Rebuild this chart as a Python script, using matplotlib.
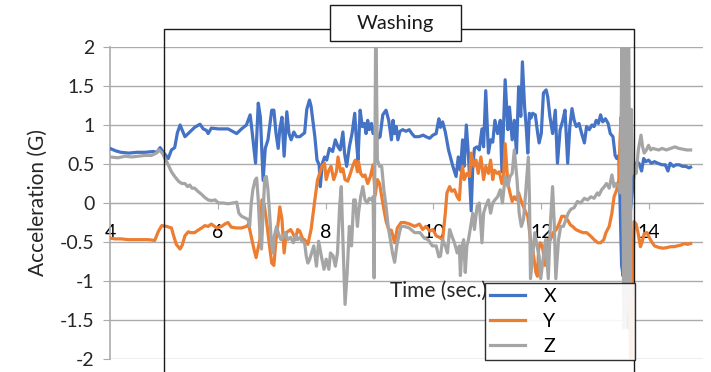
import matplotlib
matplotlib.use("Agg")
import matplotlib.pyplot as plt
from matplotlib.patches import Rectangle

plt.rcParams['font.family'] = ['Lato', 'DejaVu Sans']
plt.rcParams['axes.unicode_minus'] = False

# ---- acceleration traces (time in seconds, value in G) ----
t_x = [4.00, 4.10, 4.20, 4.35, 4.50, 4.65, 4.80, 4.87, 4.93, 4.99, 5.08, 5.14, 5.20, 5.25, 5.30, 5.39,
       5.48, 5.57, 5.67, 5.73, 5.79, 5.82, 5.88, 6.01, 6.19, 6.35, 6.44, 6.53, 6.60, 6.64, 6.70, 6.75,
       6.79, 6.84, 6.88, 6.93, 7.00, 7.04, 7.08, 7.12, 7.15, 7.19, 7.23, 7.28, 7.32, 7.36, 7.41, 7.46,
       7.52, 7.61, 7.65, 7.70, 7.73, 7.80, 7.84, 7.88, 7.90, 7.94, 7.98, 8.02, 8.07, 8.13, 8.18, 8.23,
       8.27, 8.32, 8.35, 8.39, 8.44, 8.49, 8.54, 8.57, 8.60, 8.64, 8.68, 8.72, 8.75, 8.78, 8.81, 8.85,
       8.88, 8.92, 8.97, 9.01, 9.06, 9.12, 9.17, 9.22, 9.25, 9.28, 9.31, 9.34, 9.38, 9.43, 9.49, 9.55,
       9.60, 9.65, 9.73, 9.81, 9.86, 9.93, 9.99, 10.05, 10.10, 10.13, 10.17, 10.22, 10.28, 10.36, 10.42,
       10.46, 10.50, 10.54, 10.57, 10.61, 10.65, 10.70, 10.73, 10.76, 10.81, 10.85, 10.90, 10.93, 10.97,
       11.02, 11.06, 11.10, 11.14, 11.19, 11.24, 11.27, 11.33, 11.38, 11.41, 11.46, 11.50, 11.54, 11.58,
       11.62, 11.65, 11.69, 11.72, 11.75, 11.78, 11.81, 11.84, 11.89, 11.93, 11.96, 12.00, 12.04, 12.09,
       12.12, 12.16, 12.21, 12.26, 12.30, 12.35, 12.40, 12.44, 12.49, 12.53, 12.57, 12.61, 12.65, 12.70,
       12.75, 12.80, 12.84, 12.89, 12.94, 12.98, 13.02, 13.06, 13.10, 13.14, 13.19, 13.24, 13.28, 13.33,
       13.37, 13.40, 13.44, 13.49, 13.52, 13.56, 13.60, 13.64, 13.69, 13.72, 13.75, 13.78, 13.82, 13.86,
       13.90, 13.94, 13.99, 14.04, 14.10, 14.16, 14.24, 14.30, 14.35, 14.39, 14.45, 14.50, 14.56, 14.62,
       14.68, 14.74, 14.77]
acc_x = [0.70, 0.67, 0.65, 0.64, 0.65, 0.65, 0.66, 0.65, 0.71, 0.65, 0.57, 0.68, 0.71, 0.90, 1.00, 0.85,
         0.91, 0.97, 1.01, 0.95, 0.93, 0.89, 0.96, 0.95, 0.95, 0.89, 0.95, 1.00, 1.13, 0.89, 0.51, 1.28,
         1.10, 0.29, 0.70, 0.81, 1.19, 1.19, 0.89, 0.70, 0.95, 1.10, 0.60, 1.17, 0.89, 0.81, 0.91, 0.85,
         0.85, 0.90, 1.20, 1.32, 1.24, 0.85, 0.55, 0.49, 0.21, 0.51, 0.59, 0.55, 0.70, 0.66, 0.81, 0.72,
         0.68, 0.91, 0.64, 0.47, 0.72, 0.89, 1.15, 0.81, 0.55, 1.19, 0.98, 1.02, 0.89, 1.06, 0.94, 1.02,
         0.89, 0.98, 0.83, 0.85, 1.13, 1.19, 1.06, 0.81, 1.06, 0.89, 0.98, 0.81, 0.92, 0.94, 0.92, 0.94,
         0.89, 0.85, 0.85, 0.87, 0.85, 0.83, 0.87, 0.89, 1.08, 0.97, 1.04, 0.91, 0.68, 0.47, 0.34,
         0.59, 0.42, 0.81, 0.47, 1.00, 0.60, -0.10, 0.47, 0.70, 0.72, 0.68, 0.95, 0.72, 1.44,
         0.64, 0.81, 0.78, 1.06, 0.89, 1.06, 0.40, 1.58, 0.94, 1.23, 0.81, 1.06, 0.64, 1.49,
         1.11, 1.81, 1.24, 0.98, 0.64, 1.15, 1.09, 1.15, 1.13, 0.91, 0.77, 0.89, 1.41, 1.45,
         1.36, 1.11, 0.89, 1.19, 0.51, 0.94, 1.06, 1.19, 0.51, 0.98, 1.21, 1.06, 0.98, 1.02,
         0.89, 0.77, 0.98, 0.94, 1.00, 0.98, 1.06, 1.02, 1.13, 1.04, 1.08, 1.02, 0.89, 0.85,
         0.61, 0.57, 0.61, -0.80, -0.94, 0.20, -1.60, -0.20, 0.17, 0.38, 0.47, 0.53, 0.50, 0.41,
         0.57, 0.53, 0.55, 0.51, 0.53, 0.51, 0.49, 0.49, 0.41, 0.51, 0.47, 0.49, 0.49, 0.47,
         0.47, 0.45, 0.46]

t_y = [4.00, 4.09, 4.21, 4.34, 4.46, 4.59, 4.71, 4.83, 4.90, 4.96, 5.05, 5.14, 5.18, 5.23, 5.30, 5.34,
       5.39, 5.45, 5.50, 5.57, 5.63, 5.70, 5.76, 5.82, 5.88, 5.98, 6.07, 6.13, 6.19, 6.25, 6.35, 6.44,
       6.53, 6.57, 6.62, 6.67, 6.71, 6.78, 6.82, 6.86, 6.90, 6.95, 7.00, 7.04, 7.08, 7.12, 7.15, 7.19,
       7.23, 7.27, 7.31, 7.35, 7.40, 7.44, 7.48, 7.52, 7.58, 7.61, 7.67, 7.73, 7.80, 7.85, 7.89, 7.93,
       7.98, 8.01, 8.06, 8.10, 8.15, 8.20, 8.23, 8.28, 8.32, 8.36, 8.41, 8.46, 8.51, 8.55, 8.59, 8.61,
       8.65, 8.69, 8.73, 8.78, 8.83, 8.88, 8.92, 8.96, 9.00, 9.06, 9.12, 9.17, 9.22, 9.28, 9.33, 9.40,
       9.46, 9.56, 9.65, 9.74, 9.80, 9.86, 9.93, 9.99, 10.05, 10.11, 10.17, 10.22, 10.25, 10.30, 10.34,
       10.39, 10.44, 10.48, 10.51, 10.54, 10.57, 10.62, 10.67, 10.70, 10.75, 10.79, 10.83, 10.88, 10.93,
       10.97, 11.02, 11.06, 11.10, 11.13, 11.18, 11.22, 11.27, 11.30, 11.33, 11.38, 11.42, 11.46, 11.50,
       11.54, 11.58, 11.62, 11.67, 11.72, 11.75, 11.80, 11.85, 11.90, 11.93, 11.95, 11.98, 12.02, 12.07,
       12.10, 12.12, 12.17, 12.22, 12.28, 12.34, 12.38, 12.43, 12.49, 12.54, 12.58, 12.64, 12.70, 12.77,
       12.84, 12.91, 12.98, 13.05, 13.10, 13.16, 13.20, 13.26, 13.31, 13.35, 13.40, 13.44, 13.46, 13.48,
       13.51, 13.54, 13.57, 13.60, 13.63, 13.66, 13.69, 13.72, 13.76, 13.80, 13.84, 13.87, 13.91, 13.96,
       14.01, 14.05, 14.10, 14.18, 14.26, 14.34, 14.40, 14.46, 14.53, 14.59, 14.65, 14.71, 14.77]
acc_y = [-0.45, -0.46, -0.46, -0.47, -0.47, -0.47, -0.47, -0.48, -0.36, -0.29, -0.30, -0.32, -0.42, -0.53,
         -0.59, -0.54, -0.42, -0.37, -0.38, -0.38, -0.35, -0.32, -0.29, -0.30, -0.27, -0.32, -0.30, -0.27,
         -0.25, -0.31, -0.32, -0.32, -0.30, -0.27, -0.43, -0.59, -0.70, -0.47, 0.04, -0.02, -0.21, -0.50,
         -0.77, -0.80, -0.47, -0.25, -0.05, -0.21, -0.64, -0.38, -0.36, -0.34, -0.40, -0.47, -0.34, -0.36,
         -0.47, -0.47, -0.53, -0.34, 0.04, 0.30, 0.38, 0.47, 0.51, 0.30, 0.42, 0.47, 0.30, 0.40, 0.59,
         0.40, 0.44, 0.30, 0.28, 0.38, 0.49, 0.55, 0.40, 0.53, 0.38, 0.34, 0.36, 0.25, 0.34, 0.49, 0.10,
         0.30, 0.25, 0.00, -0.23, -0.34, -0.35, -0.51, -0.32, -0.25, -0.25, -0.27, -0.30, -0.27, -0.34,
         -0.30, -0.36, -0.34, -0.42, -0.44, -0.47, -0.13, 0.13, 0.21, 0.15, 0.17, 0.08, 0.04, 0.34, 0.47,
         0.30, 0.38, 0.34, 0.64, 0.47, 0.55, 0.38, 0.59, 0.30, 0.47, 0.38, 0.55, 0.30, 0.42, 0.38, 0.40,
         0.25, 0.34, 0.76, 0.25, 0.13, 0.02, 0.08, 0.04, 0.13, 0.04, -0.05, -0.13, -0.17, -0.47, -0.64,
         -0.89, -0.94, -0.60, -0.51, -0.55, -0.80, -0.55, -0.47, -0.47, -0.38, -0.34, -0.25, -0.17, -0.17,
         -0.22, -0.28, -0.30, -0.34, -0.36, -0.38, -0.38, -0.42, -0.47, -0.51, -0.51, -0.47, -0.38, -0.30,
         -0.13, 0.08, 0.17, 0.30, 0.80, 1.10, 0.00, -0.97, 0.40, 1.82, -0.50, -2.30, -1.20, -0.24, -0.27,
         -0.40, -0.56, -0.50, -0.39, -0.38, -0.45, -0.50, -0.55, -0.57, -0.58, -0.57, -0.56, -0.56, -0.55,
         -0.54, -0.52, -0.53, -0.52]

t_z = [4.00, 4.15, 4.28, 4.40, 4.52, 4.65, 4.77, 4.86, 4.91, 4.97, 5.02, 5.08, 5.14, 5.20, 5.27, 5.33,
       5.39, 5.44, 5.48, 5.52, 5.57, 5.63, 5.70, 5.76, 5.82, 5.88, 5.95, 6.01, 6.10, 6.19, 6.28, 6.35,
       6.39, 6.44, 6.50, 6.56, 6.59, 6.62, 6.65, 6.69, 6.72, 6.75, 6.78, 6.81, 6.84, 6.87, 6.90, 6.93,
       6.96, 6.99, 7.02, 7.05, 7.09, 7.12, 7.17, 7.21, 7.25, 7.30, 7.35, 7.40, 7.44, 7.48, 7.52, 7.56,
       7.61, 7.64, 7.67, 7.70, 7.74, 7.78, 7.83, 7.87, 7.92, 7.97, 8.01, 8.06, 8.09, 8.14, 8.18, 8.22,
       8.26, 8.29, 8.32, 8.36, 8.40, 8.44, 8.48, 8.52, 8.55, 8.59, 8.61, 8.65, 8.69, 8.73, 8.77, 8.81,
       8.85, 8.88, 8.90, 8.93, 8.96, 9.00, 9.04, 9.08, 9.12, 9.16, 9.20, 9.24, 9.28, 9.32, 9.37, 9.40,
       9.46, 9.55, 9.65, 9.75, 9.83, 9.90, 9.98, 10.05, 10.10, 10.13, 10.17, 10.22, 10.26, 10.30, 10.34,
       10.39, 10.44, 10.48, 10.50, 10.53, 10.56, 10.59, 10.62, 10.65, 10.69, 10.73, 10.76, 10.81, 10.85,
       10.90, 10.93, 10.97, 11.02, 11.06, 11.10, 11.14, 11.19, 11.24, 11.28, 11.33, 11.38, 11.42, 11.46,
       11.50, 11.55, 11.59, 11.63, 11.67, 11.71, 11.76, 11.78, 11.80, 11.84, 11.88, 11.92, 11.96, 11.99,
       12.04, 12.08, 12.13, 12.17, 12.21, 12.24, 12.27, 12.32, 12.36, 12.41, 12.46, 12.50, 12.55, 12.61,
       12.67, 12.73, 12.80, 12.86, 12.92, 12.98, 13.04, 13.07, 13.12, 13.17, 13.21, 13.26, 13.31, 13.35,
       13.39, 13.44, 13.47, 13.50, 13.53, 13.56, 13.59, 13.62, 13.65, 13.67, 13.69, 13.73, 13.76, 13.80,
       13.85, 13.88, 13.91, 13.95, 13.99, 14.03, 14.07, 14.12, 14.18, 14.24, 14.32, 14.40, 14.48, 14.55,
       14.62, 14.70, 14.77]
acc_z = [0.59, 0.58, 0.60, 0.59, 0.60, 0.61, 0.61, 0.64, 0.68, 0.64, 0.57, 0.49, 0.40, 0.34, 0.28, 0.25,
         0.25, 0.21, 0.23, 0.19, 0.19, 0.15, 0.11, 0.07, 0.04, 0.03, 0.04, 0.00, 0.00, -0.01, 0.00, 0.01,
         -0.13, -0.17, -0.19, -0.21, -0.30, 0.00, 0.17, 0.29, 0.32, 0.04, -0.38, -0.59, -0.13, 0.32, 0.34,
         0.17, -0.13, -0.47, -0.64, -0.42, -0.30, -0.38, -0.47, -0.44, -0.38, -0.47, -0.44, -0.51, -0.42,
         -0.47, -0.44, -0.49, -0.51, -0.68, -0.77, -0.73, -0.64, -0.55, -0.81, -0.49, -0.68, -0.85, -0.72,
         -0.85, -0.64, -0.68, -0.81, -0.64, -0.04, 0.21, -0.47, -1.30, -0.89, -0.30, -0.55, 0.04, 0.04,
         -0.30, -0.13, 0.08, 0.21, 0.04, 0.00, 0.06, 0.04, 0.08, -0.96, 2.40, 0.55, 0.47, 0.47, 0.17, -0.04,
         -0.30, -0.47, -0.64, -0.76, -0.55, -0.38, -0.30, -0.30, -0.32, -0.38, -0.38, -0.45, -0.47, -0.55,
         -0.55, -0.69, -0.68, -0.47, -0.55, -0.64, -0.34, -0.42, -0.51, -0.64, -0.55, -0.93, -0.55, -0.47,
         -0.89, -0.55, -0.47, -0.30, -0.13, -0.34, -0.04, 0.00, -0.51, -0.13, -0.04, 0.04, -0.13, 0.00,
         0.04, 0.08, 0.17, 0.00, 0.34, 0.21, 0.34, 0.38, 0.68, 0.30, -0.13, -0.30, -0.21, 0.13, 0.59,
         0.10, -0.97, -0.68, -0.38, -0.55, -0.68, -0.97, -0.68, -0.47, -0.97, -0.25, 0.21, -0.25, -0.97,
         -0.47, -0.30, -0.30, -0.21, -0.13, -0.08, -0.06, 0.02, 0.00, 0.06, 0.04, 0.08, 0.06, 0.13, 0.10,
         0.17, 0.21, 0.25, 0.19, 0.36, 0.21, 0.25, 0.21, 0.13, 2.40, -1.60, 2.40, -1.40, 2.40, -1.20, 1.20,
         0.38, 0.47, 0.38, 0.68, 0.87, 0.72, 0.64, 0.68, 0.74, 0.68, 0.70, 0.69, 0.68, 0.70, 0.68, 0.70,
         0.72, 0.70, 0.69, 0.68, 0.68]

x_ticks = [4, 6, 8, 10, 12, 14]
y_ticks = [-2, -1.5, -1, -0.5, 0, 0.5, 1, 1.5, 2]
y_tick_labels = ['-2', '-1.5', '-1', '-0.5', '0', '0.5', '1', '1.5', '2']
series_names = ['X', 'Y', 'Z']
phase_label = 'Washing'
phase_start, phase_end = 5.0, 13.72

BLUE, ORANGE, GRAY = '#4472C4', '#ED7D31', '#A5A5A5'
GRID = '#ABABAB'
INK = '#1a1a1a'

W, H = 711, 372
fig = plt.figure(figsize=(W / 100, H / 100), dpi=100)
ax = fig.add_axes([110 / W, 1 - 359 / H, (703 - 110) / W, (359 - 47) / H])

lw = 2.3
ax.plot(t_x, acc_x, color=BLUE, lw=lw, label=series_names[0], zorder=3, solid_joinstyle='round')
ax.plot(t_y, acc_y, color=ORANGE, lw=lw, label=series_names[1], zorder=3, solid_joinstyle='round')
ax.plot(t_z, acc_z, color=GRAY, lw=lw, label=series_names[2], zorder=3, solid_joinstyle='round')

ax.set_xlim(4, 15)
ax.set_ylim(-2, 2)

# horizontal grid
ax.set_yticks(y_ticks)
ax.set_yticklabels(y_tick_labels)
ax.yaxis.grid(True, color=GRID, lw=1.0)
ax.set_axisbelow(True)

# category axis crossing at zero
ax.spines['bottom'].set_position(('data', 0))
for s in ['top', 'right']:
    ax.spines[s].set_visible(False)
ax.spines['bottom'].set_color(GRID)
ax.spines['left'].set_color(GRID)
ax.spines['left'].set_linewidth(1.2)
ax.set_xticks(x_ticks)
ax.tick_params(axis='x', direction='out', length=4, color=GRID, pad=11,
               labelsize=14, labelcolor='#000000')
ax.tick_params(axis='y', direction='out', length=5, color=GRID, pad=6,
               labelsize=14, labelcolor='#262626')

ax.set_ylabel('Acceleration (G)', fontsize=15, color='#262626', labelpad=9)

ax.text(9.19, -1.12, 'Time (sec.)', fontsize=15, color='#262626',
        ha='left', va='center', zorder=2)

# washing phase frame
ax.add_patch(Rectangle((phase_start, -2.4), phase_end - phase_start, 2.23 + 2.4,
                       fill=False, ec=INK, lw=1.0, clip_on=False, zorder=4))
fig.patches.append(Rectangle((330 / W, 1 - 41 / H), 131 / W, 36 / H,
                             transform=fig.transFigure, fc='white', ec=INK, lw=1.0, zorder=5))
fig.text(395.5 / W, 1 - 23.5 / H, phase_label, fontsize=14.5, ha='center', va='center',
         color=INK, zorder=6)

leg = ax.legend(loc='upper left',
                bbox_to_anchor=(485 / W, 1 - 366 / H, 150 / W, 83 / H),
                bbox_transform=fig.transFigure, mode='expand', frameon=True, fancybox=False,
                edgecolor=INK, framealpha=0.9, fontsize=14,
                handlelength=1.8, handletextpad=0.95, labelspacing=0.42,
                borderpad=0.25, borderaxespad=0)
leg.get_frame().set_linewidth(1.0)
leg.set_zorder(7)

fig.savefig('out.png', dpi=100)
